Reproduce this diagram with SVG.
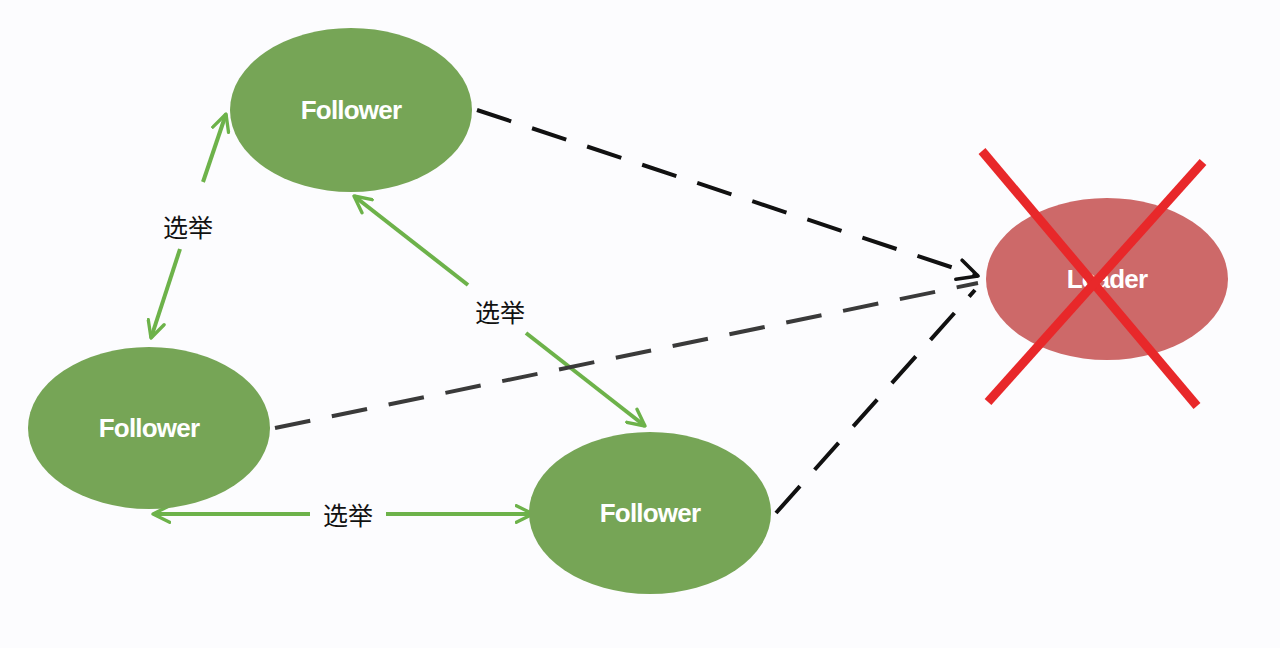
<svg xmlns="http://www.w3.org/2000/svg" width="1280" height="648" viewBox="0 0 1280 648">
<defs>
<marker id="ga" viewBox="0 0 12 12" refX="11" refY="6" markerWidth="5" markerHeight="5" orient="auto-start-reverse" markerUnits="strokeWidth">
<path d="M1,1 L11,6 L1,11" fill="none" stroke="#6db24a" stroke-width="2" stroke-linecap="round" stroke-linejoin="round"/>
</marker>
<marker id="ka" viewBox="0 0 12 12" refX="11" refY="6" markerWidth="6" markerHeight="6" orient="auto" markerUnits="strokeWidth">
<path d="M1,1 L11,6 L1,11" fill="none" stroke="#111" stroke-width="1.8" stroke-linecap="round" stroke-linejoin="round"/>
</marker>
<style>
.fol{fill:#76a556}
.lead{fill:#cd6969}
.nt{font-family:"Liberation Sans",Arial,sans-serif;font-weight:bold;font-size:26px;fill:#fff;text-anchor:middle;dominant-baseline:central;letter-spacing:-0.8px}
.g{stroke:#6db24a;stroke-width:4;fill:none}
.gs{marker-start:url(#ga)}
.ge{marker-end:url(#ga)}
.lbl{font-family:"Noto Sans CJK SC",sans-serif;font-size:25px;fill:#111;text-anchor:middle;dominant-baseline:central}
.d{stroke:#111;stroke-width:4;fill:none;stroke-dasharray:36 22}
.x{stroke:#e8282a;stroke-width:9;stroke-linecap:butt}
</style>
</defs>
<rect width="1280" height="648" fill="#fcfcfe"/>
<g id="connectors">
<line class="g gs" x1="226" y1="114" x2="203" y2="182"/>
<line class="g ge" x1="180" y1="249" x2="151" y2="338"/>
<line class="g gs" x1="354" y1="196" x2="468" y2="285"/>
<line class="g ge" x1="526" y1="333" x2="645" y2="426"/>
<line class="g gs" x1="153" y1="514" x2="310" y2="514"/>
<line class="g ge" x1="386" y1="514" x2="533" y2="514"/>
<line class="d" x1="477" y1="110" x2="978" y2="276" marker-end="url(#ka)"/>
<line class="d" x1="275" y1="428" x2="978" y2="283" style="stroke:#3a3a3a"/>
<line class="d" x1="776" y1="513" x2="975" y2="290" stroke-dasharray="38 26"/>
<text class="lbl" x="188" y="226">选举</text>
<text class="lbl" x="500" y="311">选举</text>
<text class="lbl" x="348" y="514">选举</text>
</g>
<g id="follower-top"><ellipse class="fol" cx="351" cy="110" rx="121" ry="82"/><text class="nt" x="351" y="110">Follower</text></g>
<g id="follower-left"><ellipse class="fol" cx="149" cy="428" rx="121" ry="81"/><text class="nt" x="149" y="428">Follower</text></g>
<g id="follower-bottom"><ellipse class="fol" cx="650" cy="513" rx="121" ry="81"/><text class="nt" x="650" y="513">Follower</text></g>
<g id="leader"><ellipse class="lead" cx="1107" cy="279" rx="121" ry="81"/><text class="nt" x="1107" y="279">Leader</text>
<line class="x" x1="982" y1="151" x2="1197" y2="406"/>
<line class="x" x1="1203" y1="162" x2="988" y2="402"/>
</g>
</svg>
